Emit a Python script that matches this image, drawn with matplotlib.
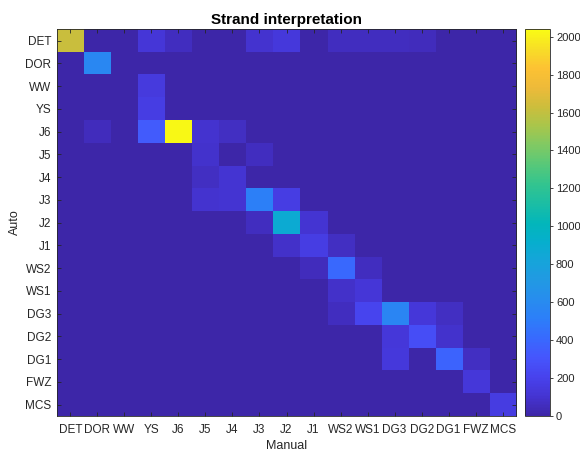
import numpy as np
import matplotlib
matplotlib.use("Agg")
import matplotlib.pyplot as plt
from matplotlib.colors import LinearSegmentedColormap

plt.rcParams['font.family'] = ['Liberation Sans', 'DejaVu Sans']

labels = ["DET", "DOR", "WW", "YS", "J6", "J5", "J4", "J3", "J2", "J1",
          "WS2", "WS1", "DG3", "DG2", "DG1", "FWZ", "MCS"]

# rows = Auto, columns = Manual
row_DET = [1620, 0, 0, 120, 60, 0, 0, 100, 140, 0, 60, 60, 60, 50, 0, 0, 0]
row_DOR = [0, 580, 0, 0, 0, 0, 0, 0, 0, 0, 0, 0, 0, 0, 0, 0, 0]
row_WW = [0, 0, 0, 150, 0, 0, 0, 0, 0, 0, 0, 0, 0, 0, 0, 0, 0]
row_YS = [0, 0, 0, 170, 0, 0, 0, 0, 0, 0, 0, 0, 0, 0, 0, 0, 0]
row_J6 = [0, 50, 0, 340, 2030, 100, 70, 0, 0, 0, 0, 0, 0, 0, 0, 0, 0]
row_J5 = [0, 0, 0, 0, 0, 90, 0, 60, 0, 0, 0, 0, 0, 0, 0, 0, 0]
row_J4 = [0, 0, 0, 0, 0, 70, 110, 0, 0, 0, 0, 0, 0, 0, 0, 0, 0]
row_J3 = [0, 0, 0, 0, 0, 100, 110, 520, 170, 0, 0, 0, 0, 0, 0, 0, 0]
row_J2 = [0, 0, 0, 0, 0, 0, 0, 60, 880, 110, 0, 0, 0, 0, 0, 0, 0]
row_J1 = [0, 0, 0, 0, 0, 0, 0, 0, 80, 170, 70, 0, 0, 0, 0, 0, 0]
row_WS2 = [0, 0, 0, 0, 0, 0, 0, 0, 0, 50, 400, 60, 0, 0, 0, 0, 0]
row_WS1 = [0, 0, 0, 0, 0, 0, 0, 0, 0, 0, 80, 120, 0, 0, 0, 0, 0]
row_DG3 = [0, 0, 0, 0, 0, 0, 0, 0, 0, 0, 60, 220, 560, 130, 70, 0, 0]
row_DG2 = [0, 0, 0, 0, 0, 0, 0, 0, 0, 0, 0, 0, 130, 270, 90, 0, 0]
row_DG1 = [0, 0, 0, 0, 0, 0, 0, 0, 0, 0, 0, 0, 140, 0, 380, 70, 0]
row_FWZ = [0, 0, 0, 0, 0, 0, 0, 0, 0, 0, 0, 0, 0, 0, 0, 130, 0]
row_MCS = [0, 0, 0, 0, 0, 0, 0, 0, 0, 0, 0, 0, 0, 0, 0, 0, 160]

data = np.array([row_DET, row_DOR, row_WW, row_YS, row_J6, row_J5, row_J4,
                 row_J3, row_J2, row_J1, row_WS2, row_WS1, row_DG3, row_DG2,
                 row_DG1, row_FWZ, row_MCS], dtype=float)

parula_pts = [
    (0.00, (0.2422, 0.1504, 0.6603)),
    (0.05, (0.2700, 0.2050, 0.8250)),
    (0.10, (0.2810, 0.2600, 0.9300)),
    (0.15, (0.2750, 0.3350, 0.9900)),
    (0.20, (0.2200, 0.4150, 0.9950)),
    (0.25, (0.1750, 0.4950, 0.9750)),
    (0.30, (0.1550, 0.5500, 0.9350)),
    (0.35, (0.1300, 0.6000, 0.8900)),
    (0.40, (0.0850, 0.6450, 0.8550)),
    (0.45, (0.0250, 0.6850, 0.8050)),
    (0.50, (0.0100, 0.7150, 0.7300)),
    (0.55, (0.1100, 0.7450, 0.6400)),
    (0.60, (0.2000, 0.7700, 0.5600)),
    (0.65, (0.3400, 0.7850, 0.4750)),
    (0.70, (0.5000, 0.7900, 0.3900)),
    (0.75, (0.6600, 0.7750, 0.2950)),
    (0.80, (0.8000, 0.7450, 0.2350)),
    (0.85, (0.9300, 0.7300, 0.2250)),
    (0.90, (0.9900, 0.7600, 0.2000)),
    (0.95, (0.9700, 0.8700, 0.1500)),
    (1.00, (0.9769, 0.9839, 0.0805)),
]
parula = LinearSegmentedColormap.from_list("parula", parula_pts, N=256)

fig = plt.figure(figsize=(5.8, 4.53), dpi=100)
ax = fig.add_axes([0.098, 0.0817, 0.792, 0.854])
cax = fig.add_axes([0.905, 0.0817, 0.044, 0.854])

im = ax.imshow(data, cmap=parula, vmin=0, vmax=2040, aspect='auto',
               interpolation='nearest')

n = len(labels)
ax.set_xticks(range(n))
ax.set_xticklabels(labels)
ax.set_yticks(range(n))
ax.set_yticklabels(labels)
ax.tick_params(direction='in', length=3, width=0.6, labelsize=8.5,
               top=True, right=True, color='#262626', labelcolor='#262626')
ax.tick_params(axis='x', pad=6)
ax.tick_params(axis='y', pad=4)
for s in ax.spines.values():
    s.set_color('#262626')
    s.set_linewidth(0.6)
ax.set_title("Strand interpretation", fontsize=11, fontweight='bold',
             color='black', pad=4)
ax.set_xlabel("Manual", fontsize=9, color='#262626', labelpad=3)
ax.set_ylabel("Auto", fontsize=9, color='#262626', labelpad=3)

cb = fig.colorbar(im, cax=cax, ticks=np.arange(0, 2001, 200))
cb.ax.tick_params(direction='out', length=2, width=0.6, labelsize=8,
                  color='#262626', labelcolor='#262626', left=False,
                  right=True, pad=2)
cb.outline.set_edgecolor('#262626')
cb.outline.set_linewidth(0.6)

fig.savefig("out.png", dpi=100)
